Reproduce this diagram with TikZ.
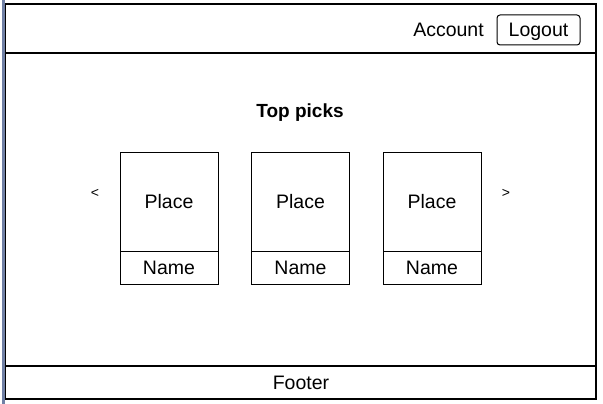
\documentclass[tikz,border=0pt]{standalone}
\usepackage{fontspec}
\setmainfont{Liberation Sans}
\definecolor{sidebar}{RGB}{112,128,165}
\begin{document}
\begin{tikzpicture}[x=1pt,y=-1pt,
  frame/.style={draw=black,line width=1.3pt},
  card/.style={draw=black,line width=1pt},
  lbl/.style={font=\fontsize{19.5}{22}\selectfont,inner sep=0pt,text height=14pt,text depth=0pt},
  arrowlbl/.style={font=\fontsize{14}{16}\selectfont,inner sep=0pt}
]
\useasboundingbox (0,0) rectangle (603,404);
\fill[white] (0,0) rectangle (603,404);
\fill[sidebar] (1.5,0) rectangle (4.5,404);
% frame
\draw[frame] (5.5,4) rectangle (596,399);
\draw[frame] (5.5,53) -- (596,53);
\draw[frame] (5.5,366) -- (596,366);
% header
\node[lbl] (account) at (448.5,30) {Account};
\node[lbl,draw,line width=1pt,rounded corners=3pt,minimum width=83pt,minimum height=30pt] (logout) at (538.5,30) {Logout};
% title
\node[lbl,font=\fontsize{19}{22}\selectfont\bfseries] (title) at (300,110.5) {Top picks};
% carousel arrows
\node[arrowlbl] (prev) at (95,193) {<};
\node[arrowlbl] (next) at (506,193) {>};
% cards
\foreach \i/\x in {1/120,2/251.5,3/383}{
  \draw[card] (\x,152) rectangle ++(98,132);
  \draw[card] (\x,251) -- ++(98,0);
  \node[lbl] (place\i) at (\x+49,201.5) {Place};
  \node[lbl] (name\i) at (\x+49,267) {Name};
}
% footer
\node[lbl] (footer) at (301,382) {Footer};
\end{tikzpicture}
\end{document}
